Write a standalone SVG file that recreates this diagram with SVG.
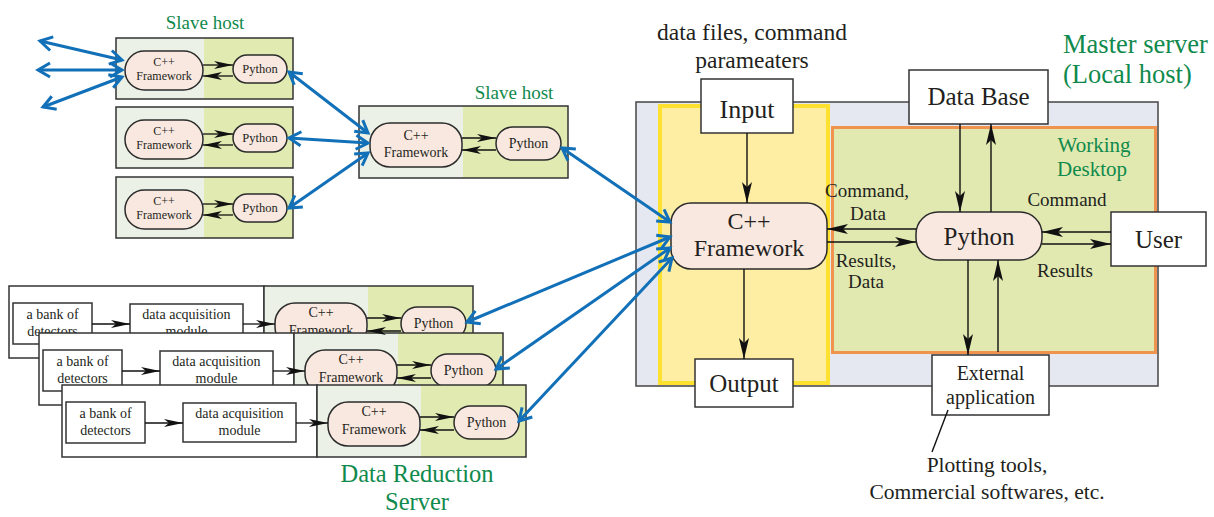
<svg xmlns="http://www.w3.org/2000/svg" width="1214" height="517" viewBox="0 0 1214 517">
<style>
.t{font-family:"Liberation Serif","Times New Roman",serif;fill:#231f20;text-anchor:middle}
.gr{fill:#108a4c}
.box{fill:#fff;stroke:#333;stroke-width:1.5}
.frame{fill:none;stroke:#333;stroke-width:1.5}
.pill{fill:#f9e8e0;stroke:#2b2b2b;stroke-width:1.5}
.l1{fill:#ebf1e6}
.l2{fill:#e1eab1}
.blue{stroke:#1170b8;stroke-width:3;fill:none;marker-start:url(#bh);marker-end:url(#bh)}
.arr{stroke:#111;stroke-width:1.4;fill:none;marker-end:url(#ah)}
.sarr{stroke:#111;stroke-width:1.3;fill:none;marker-end:url(#ahs)}
</style>
<defs>
<marker id="ah" markerUnits="userSpaceOnUse" markerWidth="22" markerHeight="12" refX="21" refY="6" orient="auto"><path d="M0,1 L21,6 L0,11 L5,6 Z" fill="#111"/></marker>
<marker id="ahs" markerUnits="userSpaceOnUse" markerWidth="20" markerHeight="10" refX="19" refY="5" orient="auto"><path d="M0,1 L19,5 L0,9 L5,5 Z" fill="#111"/></marker>
<marker id="bh" markerUnits="userSpaceOnUse" markerWidth="20" markerHeight="20" refX="14" refY="10" orient="auto-start-reverse" overflow="visible"><path d="M2,3 L14,10 L2,17" fill="none" stroke="#1170b8" stroke-width="3"/></marker>
</defs>

<!-- Slave hosts (top-left) -->
<text class="t gr" x="205" y="29" font-size="19">Slave host</text>
<g id="slave1" transform="translate(116,38)">
<rect class="l1" x="0" y="0" width="88" height="61"/><rect class="l2" x="88" y="0" width="89" height="61"/><rect class="frame" x="0" y="0" width="177" height="61"/>
<rect class="pill" x="9" y="13" width="78" height="39" rx="19.5"/>
<text class="t" x="48" y="28" font-size="12">C++</text><text class="t" x="48" y="42" font-size="12">Framework</text>
<rect class="pill" x="117" y="17" width="54" height="28" rx="14"/>
<text class="t" x="144" y="35" font-size="12.5">Python</text>
</g>
<g id="slave2" transform="translate(116,107)">
<rect class="l1" x="0" y="0" width="88" height="61"/><rect class="l2" x="88" y="0" width="89" height="61"/><rect class="frame" x="0" y="0" width="177" height="61"/>
<rect class="pill" x="9" y="13" width="78" height="39" rx="19.5"/>
<text class="t" x="48" y="28" font-size="12">C++</text><text class="t" x="48" y="42" font-size="12">Framework</text>
<rect class="pill" x="117" y="17" width="54" height="28" rx="14"/>
<text class="t" x="144" y="35" font-size="12.5">Python</text>
</g>
<g id="slave3" transform="translate(116,177)">
<rect class="l1" x="0" y="0" width="88" height="61"/><rect class="l2" x="88" y="0" width="89" height="61"/><rect class="frame" x="0" y="0" width="177" height="61"/>
<rect class="pill" x="9" y="13" width="78" height="39" rx="19.5"/>
<text class="t" x="48" y="28" font-size="12">C++</text><text class="t" x="48" y="42" font-size="12">Framework</text>
<rect class="pill" x="117" y="17" width="54" height="28" rx="14"/>
<text class="t" x="144" y="35" font-size="12.5">Python</text>
</g>

<!-- Middle slave host -->
<text class="t gr" x="514" y="99" font-size="19">Slave host</text>
<g id="slave-mid" transform="translate(359,106)">
<rect class="l1" x="0" y="0" width="104" height="72"/><rect class="l2" x="104" y="0" width="105" height="72"/><rect class="frame" x="0" y="0" width="209" height="72"/>
<rect class="pill" x="11" y="17" width="92" height="44" rx="20"/>
<text class="t" x="57" y="34" font-size="14">C++</text><text class="t" x="57" y="51" font-size="14">Framework</text>
<rect class="pill" x="137" y="21" width="65" height="33" rx="16.5"/>
<text class="t" x="169.5" y="42" font-size="14">Python</text>
</g>

<!-- Data reduction servers -->
<g id="drs1" transform="translate(9,286)">
<rect class="box" x="0" y="0" width="255" height="72"/>
<rect class="box" x="4" y="17" width="79" height="41"/>
<text class="t" x="43.5" y="33" font-size="14">a bank of</text><text class="t" x="43.5" y="50" font-size="14">detectors</text>
<rect class="box" x="121" y="18" width="113" height="39"/>
<text class="t" x="177.5" y="33" font-size="14">data acquisition</text><text class="t" x="177.5" y="50" font-size="14">module</text>
<g transform="translate(255,0)">
<rect class="l1" x="0" y="0" width="104" height="72"/><rect class="l2" x="104" y="0" width="105" height="72"/><rect class="frame" x="0" y="0" width="209" height="72"/>
<rect class="pill" x="11" y="17" width="92" height="44" rx="20"/>
<text class="t" x="57" y="31" font-size="14">C++</text><text class="t" x="57" y="49" font-size="14">Framework</text>
<rect class="pill" x="137" y="21" width="65" height="33" rx="16.5"/>
<text class="t" x="169.5" y="42" font-size="14">Python</text>
</g>
</g>
<g id="drs2" transform="translate(39,333)">
<rect class="box" x="0" y="0" width="255" height="72"/>
<rect class="box" x="4" y="17" width="79" height="41"/>
<text class="t" x="43.5" y="33" font-size="14">a bank of</text><text class="t" x="43.5" y="50" font-size="14">detectors</text>
<rect class="box" x="121" y="18" width="113" height="39"/>
<text class="t" x="177.5" y="33" font-size="14">data acquisition</text><text class="t" x="177.5" y="50" font-size="14">module</text>
<g transform="translate(255,0)">
<rect class="l1" x="0" y="0" width="104" height="72"/><rect class="l2" x="104" y="0" width="105" height="72"/><rect class="frame" x="0" y="0" width="209" height="72"/>
<rect class="pill" x="11" y="17" width="92" height="44" rx="20"/>
<text class="t" x="57" y="31" font-size="14">C++</text><text class="t" x="57" y="49" font-size="14">Framework</text>
<rect class="pill" x="137" y="21" width="65" height="33" rx="16.5"/>
<text class="t" x="169.5" y="42" font-size="14">Python</text>
</g>
</g>
<g id="drs3" transform="translate(62,385)">
<rect class="box" x="0" y="0" width="255" height="72"/>
<rect class="box" x="4" y="17" width="79" height="41"/>
<text class="t" x="43.5" y="33" font-size="14">a bank of</text><text class="t" x="43.5" y="50" font-size="14">detectors</text>
<rect class="box" x="121" y="18" width="113" height="39"/>
<text class="t" x="177.5" y="33" font-size="14">data acquisition</text><text class="t" x="177.5" y="50" font-size="14">module</text>
<g transform="translate(255,0)">
<rect class="l1" x="0" y="0" width="104" height="72"/><rect class="l2" x="104" y="0" width="105" height="72"/><rect class="frame" x="0" y="0" width="209" height="72"/>
<rect class="pill" x="11" y="17" width="92" height="44" rx="20"/>
<text class="t" x="57" y="31" font-size="14">C++</text><text class="t" x="57" y="49" font-size="14">Framework</text>
<rect class="pill" x="137" y="21" width="65" height="33" rx="16.5"/>
<text class="t" x="169.5" y="42" font-size="14">Python</text>
</g>
</g>
<g id="drs-label">
<text class="t gr" x="417" y="481.5" font-size="24.5">Data Reduction</text>
<text class="t gr" x="417" y="509.5" font-size="24.5">Server</text>
</g>

<!-- Master server -->
<g id="master">
<rect x="636" y="102" width="522" height="284" fill="#e5e8f1" stroke="#444" stroke-width="1.5"/>
<rect x="660" y="106" width="168" height="277" fill="#fdeea3" stroke="#fde12e" stroke-width="4"/>
<rect x="832.5" y="127.5" width="323" height="225" fill="#e1e9b0" stroke="#f0934f" stroke-width="3"/>
<text class="t gr" x="1063" y="53" font-size="26.5" style="text-anchor:start">Master server</text>
<text class="t gr" x="1063" y="83" font-size="26.5" style="text-anchor:start">(Local host)</text>
</g>
<g id="working-desktop-label">
<text class="t gr" x="1094" y="152" font-size="21">Working</text>
<text class="t gr" x="1092" y="176" font-size="21">Desktop</text>
</g>
<g id="input">
<text class="t" x="752" y="40" font-size="23.5">data files, command</text>
<text class="t" x="752" y="68" font-size="23.5">parameaters</text>
<rect class="box" x="701" y="79" width="92" height="54"/>
<text class="t" x="747" y="118" font-size="26">Input</text>
</g>
<g id="output">
<rect class="box" x="695" y="359" width="98" height="48"/>
<text class="t" x="744" y="392" font-size="25">Output</text>
</g>
<g id="cpp-master">
<rect class="pill" x="671" y="203" width="156" height="66" rx="20"/>
<text class="t" x="749" y="229" font-size="24">C++</text>
<text class="t" x="749" y="256" font-size="24">Framework</text>
</g>
<g id="python-master">
<rect class="pill" x="916" y="212" width="126" height="48" rx="22"/>
<text class="t" x="979" y="245" font-size="25">Python</text>
</g>
<g id="database">
<rect class="box" x="909" y="70" width="139" height="54"/>
<text class="t" x="978.5" y="105" font-size="25">Data Base</text>
</g>
<g id="user">
<rect class="box" x="1111" y="212" width="95" height="54"/>
<text class="t" x="1158.5" y="248" font-size="25">User</text>
</g>
<g id="external">
<rect class="box" x="932" y="355" width="117" height="60"/>
<text class="t" x="990.5" y="380" font-size="20">External</text>
<text class="t" x="990.5" y="404" font-size="20">application</text>
</g>
<g id="plotting-note">
<text class="t" x="987" y="472" font-size="21.5">Plotting tools,</text>
<text class="t" x="987" y="499" font-size="21.5">Commercial softwares, etc.</text>
</g>

<!-- Connectors -->
<g id="connectors">
<line class="sarr" x1="203" y1="65" x2="233" y2="65"/><line class="sarr" x1="233" y1="76" x2="203" y2="76"/>
<line class="sarr" x1="203" y1="134" x2="233" y2="134"/><line class="sarr" x1="233" y1="145" x2="203" y2="145"/>
<line class="sarr" x1="203" y1="204" x2="233" y2="204"/><line class="sarr" x1="233" y1="215" x2="203" y2="215"/>
<line class="sarr" x1="462" y1="138" x2="496" y2="138"/><line class="sarr" x1="496" y1="150" x2="462" y2="150"/>
<line class="sarr" x1="92" y1="324" x2="130" y2="324"/><line class="sarr" x1="243" y1="324" x2="275" y2="324"/>
<line class="sarr" x1="367" y1="318" x2="401" y2="318"/><line class="sarr" x1="401" y1="331" x2="367" y2="331"/>
<line class="sarr" x1="122" y1="371" x2="160" y2="371"/><line class="sarr" x1="273" y1="371" x2="305" y2="371"/>
<line class="sarr" x1="397" y1="365" x2="431" y2="365"/><line class="sarr" x1="431" y1="378" x2="397" y2="378"/>
<line class="sarr" x1="145" y1="423" x2="183" y2="423"/><line class="sarr" x1="296" y1="423" x2="328" y2="423"/>
<line class="sarr" x1="420" y1="417" x2="454" y2="417"/><line class="sarr" x1="454" y1="430" x2="420" y2="430"/>
<line class="arr" x1="747" y1="133" x2="747" y2="203"/>
<line class="arr" x1="744" y1="269" x2="744" y2="359"/>
<line class="arr" x1="916" y1="229" x2="827" y2="229"/>
<line class="arr" x1="827" y1="242" x2="916" y2="242"/>
<line class="arr" x1="960" y1="124" x2="960" y2="212"/>
<line class="arr" x1="991" y1="212" x2="991" y2="124"/>
<line class="arr" x1="1111" y1="232" x2="1042" y2="232"/>
<line class="arr" x1="1042" y1="244" x2="1111" y2="244"/>
<line class="arr" x1="968" y1="260" x2="968" y2="355"/>
<line class="arr" x1="998" y1="352" x2="998" y2="260"/>
<line x1="948" y1="410" x2="932" y2="452" stroke="#111" stroke-width="1.4"/>
<text class="t" x="867" y="197" font-size="19">Command,</text>
<text class="t" x="868" y="220" font-size="19">Data</text>
<text class="t" x="866" y="267" font-size="19">Results,</text>
<text class="t" x="866" y="288" font-size="19">Data</text>
<text class="t" x="1067" y="206" font-size="19">Command</text>
<text class="t" x="1065" y="277" font-size="19">Results</text>
<line class="blue" x1="122" y1="60" x2="40" y2="41"/>
<line class="blue" x1="122" y1="70" x2="38" y2="70"/>
<line class="blue" x1="122" y1="77" x2="43" y2="107"/>
<line class="blue" x1="289" y1="72" x2="368" y2="133"/>
<line class="blue" x1="289" y1="138" x2="368" y2="143"/>
<line class="blue" x1="289" y1="208" x2="368" y2="153"/>
<line class="blue" x1="562" y1="148" x2="670" y2="222"/>
<line class="blue" x1="467" y1="322" x2="670" y2="237"/>
<line class="blue" x1="496" y1="369" x2="670" y2="248"/>
<line class="blue" x1="519" y1="421" x2="672" y2="258"/>
</g>
</svg>
